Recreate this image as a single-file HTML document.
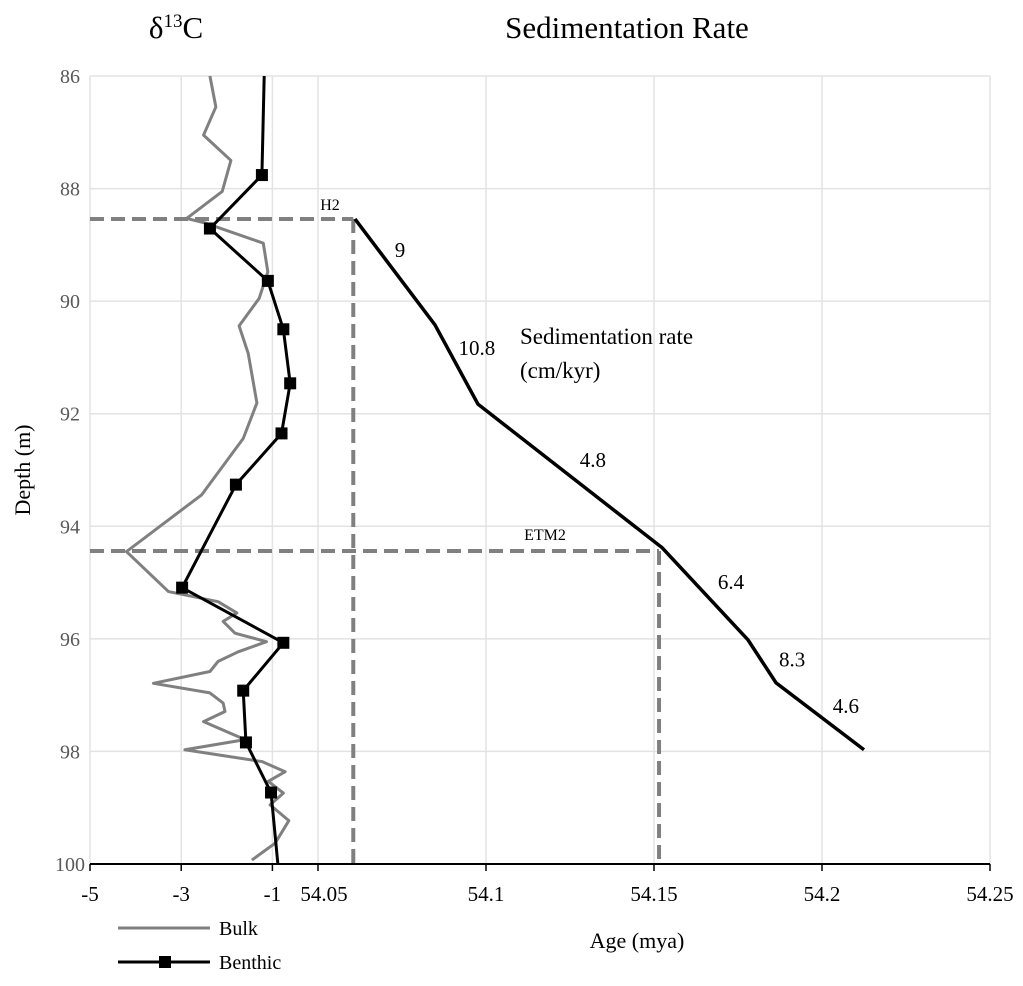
<!DOCTYPE html>
<html><head><meta charset="utf-8"><style>
body{margin:0;background:#fff;}
svg text{font-family:"Liberation Serif",serif;}
</style></head><body>
<svg width="1023" height="981" viewBox="0 0 1023 981" xmlns="http://www.w3.org/2000/svg">
<g id="grid"></g>
<g id="marks"></g>
<g id="axes"></g>
<text x="176" y="38" font-size="31" text-anchor="middle">δ<tspan font-size="19" dy="-11">13</tspan><tspan dy="11">C</tspan></text>
<text x="627" y="38" font-size="31" text-anchor="middle">Sedimentation Rate</text>
<text transform="translate(30,470) rotate(-90)" font-size="22" text-anchor="middle">Depth (m)</text>
<text x="637" y="948" font-size="22" text-anchor="middle">Age  (mya)</text>
<text x="520" y="344" font-size="23">Sedimentation  rate</text>
<text x="520" y="378" font-size="23">(cm/kyr)</text>
<text x="330" y="210" font-size="16" text-anchor="middle">H2</text>
<text x="545" y="540" font-size="16" text-anchor="middle">ETM2</text>
<g>
<line x1="118" y1="928" x2="210" y2="928" stroke="#808080" stroke-width="3"/>
<text x="219" y="935" font-size="20">Bulk</text>
<line x1="118" y1="962" x2="210" y2="962" stroke="#000" stroke-width="3"/>
<rect x="159" y="956" width="12" height="12" fill="#000"/>
<text x="219" y="969" font-size="20">Benthic</text>
</g>
</svg>
<script>
const depthTicks=[86,88,90,92,94,96,98,100];
const d13cTicks=[-5,-3,-1];
const ageTicks=[54.05,54.1,54.15,54.2,54.25];
const ageTickLabels=["54.05","54.1","54.15","54.2","54.25"];
const bulkD13C=[-2.37,-2.24,-2.51,-1.91,-2.10,-2.88,-2.48,-1.20,-1.10,-1.29,-1.73,-1.53,-1.34,-1.64,-2.55,-4.20,-3.28,-2.19,-1.78,-2.08,-1.82,-1.13,-1.75,-2.19,-2.37,-3.61,-2.37,-2.08,-2.04,-2.51,-1.60,-2.92,-1.23,-0.72,-1.09,-0.76,-1.05,-0.64,-0.94,-1.45];
const bulkDepth=[86.0,86.55,87.05,87.5,88.05,88.53,88.61,88.97,89.48,89.95,90.44,90.93,91.81,92.44,93.44,94.45,95.16,95.34,95.54,95.69,95.90,96.05,96.23,96.40,96.58,96.79,96.96,97.14,97.29,97.47,97.79,97.97,98.18,98.36,98.53,98.74,98.95,99.23,99.63,99.93];
const benthicD13C=[-1.18,-1.23,-2.37,-1.10,-0.76,-0.61,-0.80,-1.80,-2.98,-0.76,-1.64,-1.58,-1.03,-0.88];
const benthicDepth=[86.0,87.76,88.71,89.64,90.50,91.46,92.35,93.26,95.09,96.07,96.92,97.84,98.73,100.0];
const benthicMarkerIdx=[1,2,3,4,5,6,7,8,9,10,11,12];
const sedAge=[54.061,54.0848,54.0976,54.1524,54.178,54.1863,54.2125];
const sedDepth=[88.54,90.42,91.83,94.38,96.02,96.78,97.97];
const rateLabels=["9","10.8","4.8","6.4","8.3","4.6"];
const rateLabelAge=[54.0744,54.0973,54.1318,54.1729,54.1911,54.2071];
const rateLabelDepth=[89.09,90.83,92.82,94.99,96.37,97.19];
const h2=[54.0605,88.54];
const etm2=[54.1515,94.44];

const NS="http://www.w3.org/2000/svg";
const L=90,R=990,T=76,B=864;
const y=d=>T+(d-86)/(100-86)*(B-T);
const xc=v=>L+(v+5)/5*(318-L);
const xa=a=>318+(a-54.05)/0.2*(R-318);
function mk(tag,attrs,parent){const e=document.createElementNS(NS,tag);for(const k in attrs)e.setAttribute(k,attrs[k]);document.getElementById(parent).appendChild(e);return e;}
depthTicks.forEach(d=>{const g=mk('line',{x1:L,x2:R,y1:y(d),y2:y(d),stroke:'#e3e3e3','stroke-width':1.5},'grid');


const t=mk('text',{x:70,y:y(d)+7,'font-size':20,'text-anchor':'middle',fill:'#595959'},'axes');t.textContent=d;

});
[...d13cTicks.map(xc),...ageTicks.map(xa)].forEach(px=>{const g=mk('line',{x1:px,x2:px,y1:T,y2:B,stroke:'#e3e3e3','stroke-width':1.5},'grid');


const tk=mk('line',{x1:px,x2:px,y1:B,y2:B+7,stroke:'#000','stroke-width':1.5},'axes');

});
d13cTicks.forEach(v=>{const t=mk('text',{x:xc(v),y:B+37,'font-size':21,'text-anchor':'middle'},'axes');t.textContent=v;

});
ageTicks.forEach((a,i)=>{const t=mk('text',{x:xa(a)+(i==0?6:0),y:B+37,'font-size':21,'text-anchor':'middle'},'axes');t.textContent=ageTickLabels[i];

});
const ax=mk('line',{x1:L,x2:R,y1:B,y2:B,stroke:'#000','stroke-width':2},'axes');


[h2,etm2].forEach((p,i)=>{const px=xa(p[0]),py=y(p[1]);
const a=mk('path',{d:`M${L},${py}H${px}`,stroke:'#808080','stroke-width':4,'stroke-dasharray':'14,7',fill:'none'},'marks');


const b=mk('path',{d:`M${px},${py}V${B}`,stroke:'#808080','stroke-width':4,'stroke-dasharray':'14,7',fill:'none'},'marks');

});
const bp=mk('polyline',{points:bulkD13C.map((v,i)=>xc(v)+','+y(bulkDepth[i])).join(' '),fill:'none',stroke:'#808080','stroke-width':3,'stroke-linejoin':'round'},'marks');


const kp=mk('polyline',{points:benthicD13C.map((v,i)=>xc(v)+','+y(benthicDepth[i])).join(' '),fill:'none',stroke:'#000','stroke-width':3},'marks');


benthicMarkerIdx.forEach(i=>{const r=mk('rect',{x:xc(benthicD13C[i])-6,y:y(benthicDepth[i])-6,width:12,height:12,fill:'#000'},'marks');

});
const sp=mk('polyline',{points:sedAge.map((a,i)=>xa(a)+','+y(sedDepth[i])).join(' '),fill:'none',stroke:'#000','stroke-width':3.5},'marks');


rateLabels.forEach((s,i)=>{const t=mk('text',{x:xa(rateLabelAge[i]),y:y(rateLabelDepth[i])+7,'font-size':21,'text-anchor':'middle'},'marks');t.textContent=s;

});
</script>
</body></html>
